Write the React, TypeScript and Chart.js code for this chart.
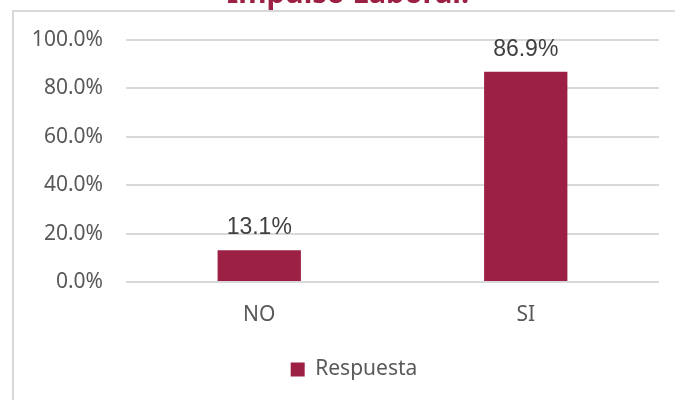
import React, { useEffect, useRef } from "react";
import { Chart, registerables } from "chart.js";

Chart.register(...registerables);

const TITLE = "Impulso Laboral.";
const categories = ["NO", "SI"];
const seriesLabel = "Respuesta";
const seriesValues = [13.1, 86.9];
const yTicks = [0, 20, 40, 60, 80, 100];

const BAR_COLOR = "#9c2043";
const GRID_COLOR = "#d9d9d9";
const TEXT_COLOR = "#595959";

const framePlugin = {
  id: "frame",
  afterLayout(chart: any) {
    // widen the label clip region of the y axis so long labels are not cut
    if (chart.scales.y) chart.scales.y.left = 0;
  },
  beforeDraw(chart: any) {
    const ctx = chart.ctx;
    ctx.save();
    ctx.fillStyle = "#ffffff";
    ctx.fillRect(0, 0, chart.width, chart.height);
    ctx.strokeStyle = GRID_COLOR;
    ctx.lineWidth = 2;
    ctx.beginPath();
    ctx.moveTo(12, 11);
    ctx.lineTo(chart.width, 11);
    ctx.moveTo(13, 10);
    ctx.lineTo(13, chart.height);
    ctx.stroke();
    ctx.fillStyle = BAR_COLOR;
    ctx.font = "bold 29px 'Noto Sans'";
    ctx.textAlign = "center";
    ctx.textBaseline = "alphabetic";
    ctx.fillText(TITLE, 348, 2.5);
    ctx.restore();
  },
};

const valueLabelPlugin = {
  id: "valueLabels",
  afterDatasetsDraw(chart: any) {
    const ctx = chart.ctx;
    ctx.save();
    ctx.fillStyle = "#404040";
    ctx.font = "23px 'Liberation Sans'";
    ctx.textAlign = "center";
    ctx.textBaseline = "alphabetic";
    chart.data.datasets.forEach((ds: any, di: number) => {
      const meta = chart.getDatasetMeta(di);
      meta.data.forEach((bar: any, i: number) => {
        ctx.fillText(ds.data[i].toFixed(1) + "%", bar.x, bar.y - 16);
      });
    });
    ctx.restore();
  },
};

export default function App() {
  const ref = useRef<HTMLCanvasElement | null>(null);
  useEffect(() => {
    if (!ref.current) return;
    const chart = new Chart(ref.current, {
      type: "bar",
      data: {
        labels: categories,
        datasets: [
          {
            label: seriesLabel,
            data: seriesValues,
            backgroundColor: BAR_COLOR,
            borderWidth: 0,
            categoryPercentage: 1,
            barPercentage: 0.3126,
          },
        ],
      },
      options: {
        responsive: false,
        animation: false,
        layout: { padding: { top: 40, left: 49, right: 16, bottom: 10 } },
        scales: {
          x: {
            grid: { display: false, drawTicks: false },
            border: { display: false },
            ticks: {
              color: TEXT_COLOR,
              font: { family: "'Noto Sans'", size: 21 },
              padding: 20,
            },
            afterFit(scale: any) {
              scale.height = 67;
            },
          },
          y: {
            min: 0,
            max: 100,
            grid: { color: GRID_COLOR, lineWidth: 2, drawTicks: false },
            border: { display: false },
            afterBuildTicks(scale: any) {
              scale.ticks = yTicks.map((v) => ({ value: v }));
            },
            ticks: {
              color: TEXT_COLOR,
              font: { family: "'Noto Sans'", size: 21 },
              padding: 23,
              callback: (v: any) => Number(v).toFixed(1) + "%",
            },
            afterFit(scale: any) {
              scale.width = 77;
            },
          },
        },
        plugins: {
          legend: {
            position: "bottom",
            labels: {
              color: TEXT_COLOR,
              font: { family: "'Noto Sans'", size: 21 },
              boxWidth: 14,
              boxHeight: 14,
              padding: 10,
            },
          },
          title: { display: false },
          tooltip: { enabled: false },
        },
      },
      plugins: [framePlugin, valueLabelPlugin],
    });
    return () => chart.destroy();
  }, []);
  return (
    <div style={{ position: "fixed", left: 0, top: 0, width: 675, height: 400, overflow: "hidden", background: "#fff" }}>
      <canvas ref={ref} width={675} height={400} />
    </div>
  );
}
